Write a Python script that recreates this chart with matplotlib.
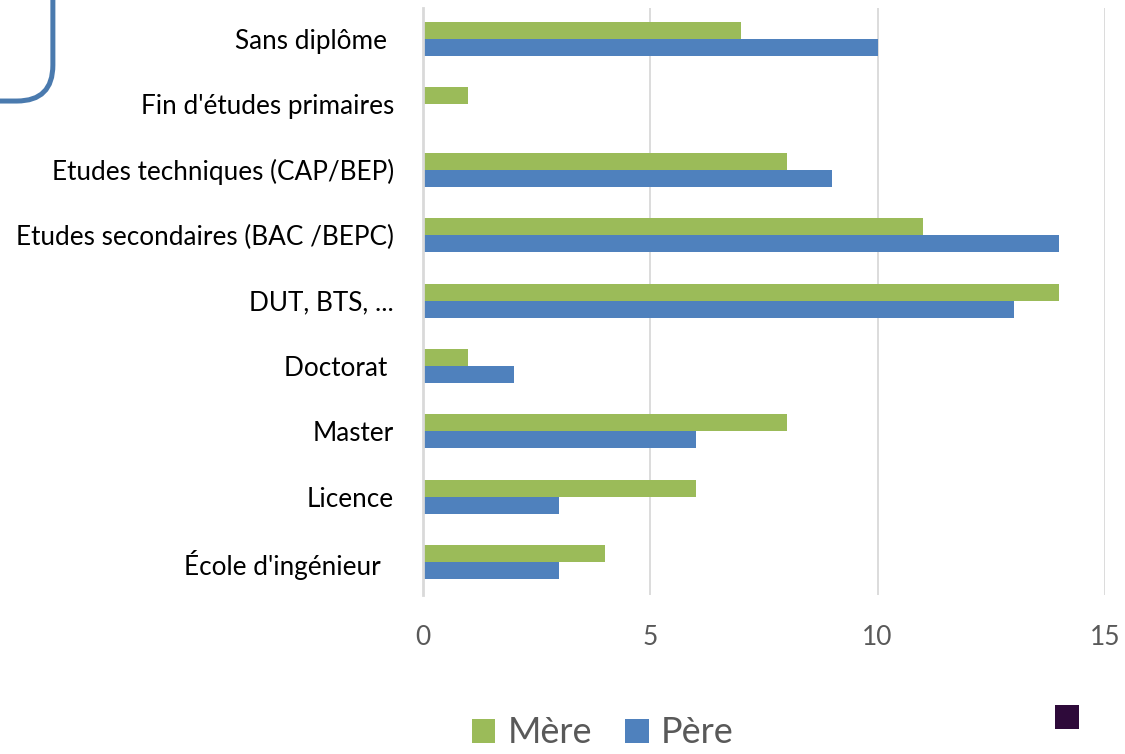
import matplotlib
matplotlib.use("Agg")
import matplotlib.pyplot as plt
from matplotlib.patches import FancyBboxPatch, Rectangle
import numpy as np

# Données
categories = ["Sans diplôme ", "Fin d'études primaires", "Etudes techniques (CAP/BEP)",
              "Etudes secondaires (BAC /BEPC)", "DUT, BTS, ...", "Doctorat ",
              "Master", "Licence", "École d'ingénieur  "]
mere = [7, 1, 8, 11, 14, 1, 8, 6, 4]
pere = [10, 0, 9, 14, 13, 2, 6, 3, 3]
xticks = [0, 5, 10, 15]

vert = "#9bbb59"
bleu = "#4f81bd"
gris = "#595959"

plt.rcParams['font.family'] = ['Lato', 'DejaVu Sans']

fig = plt.figure(figsize=(11.25, 7.54), dpi=100)
ax = fig.add_axes([0.376, 0.211, 0.606, 0.779])

y = np.arange(len(categories))
h = 0.26
ax.barh(y - h / 2, mere, height=h, color=vert, label="Mère", zorder=3)
ax.barh(y + h / 2, pere, height=h, color=bleu, label="Père", zorder=3)

ax.set_ylim(len(categories) - 0.5, -0.48)
ax.set_xlim(0, 15)
ax.set_xticks(xticks)
ax.set_yticks(y)
ax.set_yticklabels(categories, fontsize=18.8, color="black")
ax.tick_params(axis="x", labelsize=19, colors=gris, length=0, pad=22)
ax.tick_params(axis="y", length=0, pad=21)
ax.grid(axis="x", color="#d9d9d9", linewidth=1.3, zorder=0)
for s in ["top", "right", "bottom"]:
    ax.spines[s].set_visible(False)
ax.spines["left"].set_color("#d9d9d9")
ax.spines["left"].set_linewidth(2)
ax.spines["left"].set_zorder(4)

fig.legend(loc="center", bbox_to_anchor=(0.536, 0.028), ncol=2, frameon=False,
           fontsize=26, labelcolor=gris, handlelength=0.65, handleheight=0.65,
           handletextpad=0.35, columnspacing=0.9)

# Décorations : coin de cadre arrondi et petit carré
fig.patches.append(FancyBboxPatch((-0.1, 0.866), 0.147, 0.2,
                                  boxstyle="round,pad=0,rounding_size=0.032",
                                  transform=fig.transFigure, fill=False,
                                  edgecolor="#4a7aae", linewidth=3.6,
                                  mutation_aspect=1.49))
fig.patches.append(Rectangle((0.9378, 0.033), 0.0213, 0.032, transform=fig.transFigure,
                             facecolor="#2e0a3a", edgecolor="none"))

fig.savefig("out.png", dpi=100)
